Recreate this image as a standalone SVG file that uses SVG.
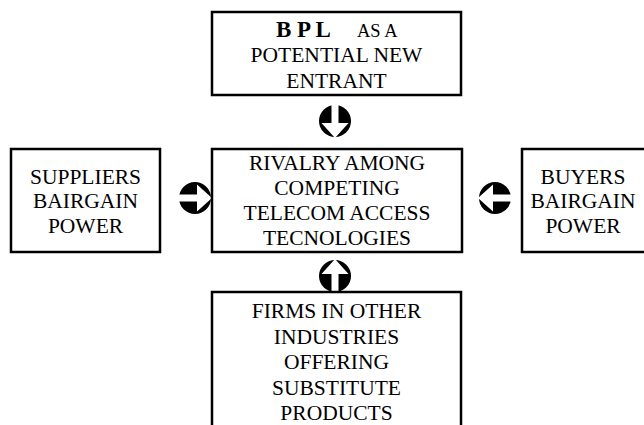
<svg xmlns="http://www.w3.org/2000/svg" width="644" height="425" viewBox="0 0 644 425">
<style>
.box{fill:#fff;stroke:#000;stroke-width:2.5}
.t{font-family:"Liberation Serif","Times New Roman",serif;font-size:21.5px;fill:#000;text-anchor:middle}
.st{text-anchor:start}
.b{font-weight:bold;font-size:23px}
.s{font-size:18.5px}
.dot{fill:#000}
.cut{fill:#fff}
</style>
<defs>
<g id="arr">
<circle class="dot" cx="0" cy="0" r="16"/>
<polygon class="cut" points="-3.5,-17 3.5,-17 3.5,2 13.5,2 0,17 -13.5,2 -3.5,2"/>
</g>
</defs>
<rect width="644" height="425" fill="#fff"/>
<g id="connectors">
<use href="#arr" transform="translate(335,121)"/>
<use href="#arr" transform="translate(195,198) rotate(-90)"/>
<use href="#arr" transform="translate(495,198) rotate(90)"/>
<use href="#arr" transform="translate(335,276) rotate(180)"/>
</g>
<g id="entrant">
<rect class="box" x="212" y="12" width="249" height="83"/>
<text class="t st b" x="276" y="37">B P L</text>
<text class="t st s" x="357" y="37">AS A</text>
<text class="t" x="336.5" y="62">POTENTIAL NEW</text>
<text class="t" x="336.5" y="88">ENTRANT</text>
</g>
<g id="suppliers">
<rect class="box" x="11" y="149" width="149" height="103"/>
<text class="t" x="85.5" y="184">SUPPLIERS</text>
<text class="t" x="85.5" y="208">BAIRGAIN</text>
<text class="t" x="85.5" y="233">POWER</text>
</g>
<g id="rivalry">
<rect class="box" x="212" y="149" width="250" height="103"/>
<text class="t" x="337" y="170">RIVALRY AMONG</text>
<text class="t" x="337" y="195">COMPETING</text>
<text class="t" x="337" y="220">TELECOM ACCESS</text>
<text class="t" x="337" y="245">TECNOLOGIES</text>
</g>
<g id="buyers">
<rect class="box" x="522" y="149" width="140" height="103"/>
<text class="t" x="583" y="184">BUYERS</text>
<text class="t" x="583" y="208">BAIRGAIN</text>
<text class="t" x="583" y="233">POWER</text>
</g>
<g id="substitutes">
<path class="box" d="M212,430 V292 H461 V430"/>
<text class="t" x="336.5" y="318">FIRMS IN OTHER</text>
<text class="t" x="336.5" y="344">INDUSTRIES</text>
<text class="t" x="336.5" y="369">OFFERING</text>
<text class="t" x="336.5" y="395">SUBSTITUTE</text>
<text class="t" x="336.5" y="420">PRODUCTS</text>
</g>
</svg>
